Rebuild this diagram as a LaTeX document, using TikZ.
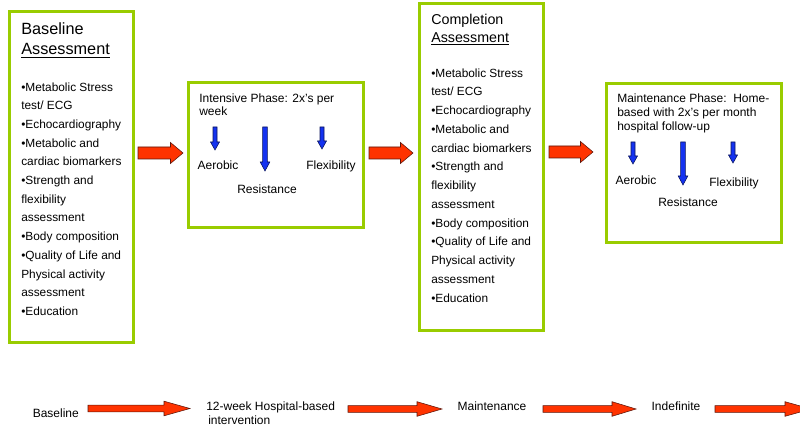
\documentclass[tikz,border=0pt]{standalone}
\usepackage{fontspec}
\setmainfont{Liberation Sans}
\definecolor{limegreen}{RGB}{153,204,0}
\definecolor{arrowred}{RGB}{255,51,0}
\definecolor{arroweddge}{RGB}{90,20,10}
\definecolor{arrowblue}{RGB}{20,50,240}
\definecolor{blueedge}{RGB}{10,20,90}
\newcommand{\hblock}[7]{% style, x1, x2, y, shaft half, head half, head length
  \filldraw[#1] (#2,#4-#5) -- (#3-#7,#4-#5) -- (#3-#7,#4-#6) -- (#3,#4) -- (#3-#7,#4+#6) -- (#3-#7,#4+#5) -- (#2,#4+#5) -- cycle;}
\newcommand{\vblock}[7]{% style, x, y1, y2, shaft half, head half, head length
  \filldraw[#1] (#2-#5,#3) -- (#2-#5,#4-#7) -- (#2-#6,#4-#7) -- (#2,#4) -- (#2+#6,#4-#7) -- (#2+#5,#4-#7) -- (#2+#5,#3) -- cycle;}
\begin{document}
\begin{tikzpicture}[x=0.75pt,y=-0.75pt,
  greenbox/.style={draw=limegreen, line width=2.25pt, inner sep=0pt},
  redarrow/.style={fill=arrowred, draw=arroweddge, line width=0.4pt},
  bluearrow/.style={fill=arrowblue, draw=blueedge, line width=0.4pt},
  txt/.style={inner sep=0pt, anchor=base west, font=\fontsize{8.9}{10}\selectfont},
  lbl/.style={inner sep=0pt, anchor=base, font=\fontsize{9}{10}\selectfont},
  bigtitle/.style={inner sep=0pt, anchor=base west, font=\fontsize{12.2}{14}\selectfont},
  midtitle/.style={inner sep=0pt, anchor=base west, font=\fontsize{10.7}{12}\selectfont}]
\useasboundingbox (0,0) rectangle (800,431);

% boxes
\node[greenbox, minimum width=93pt, minimum height=247.5pt] (b1) at (71,177) {};
\node[greenbox, minimum width=131.25pt, minimum height=108.75pt] (b2) at (275.5,155.5) {};
\node[greenbox, minimum width=93pt, minimum height=244.5pt] (b3) at (481,167) {};
\node[greenbox, minimum width=131.25pt, minimum height=119.25pt] (b4) at (693.5,163.5) {};

% box 1 text
\node[bigtitle] (t1a) at (21,35) {Baseline};
\node[bigtitle] (t1b) at (21,55) {\underline{Assessment}};
\foreach \t [count=\i] in {•Metabolic Stress, test/ ECG, •Echocardiography, •Metabolic and, cardiac biomarkers, •Strength and, flexibility, assessment, •Body composition, •Quality of Life and, Physical activity, assessment, •Education}
  \node[txt] (b1l\i) at (21,91.2+18.68*\i-18.68) {\t};

% box 3 text
\node[midtitle] (t3a) at (431,25) {Completion};
\node[midtitle] (t3b) at (431,42.3) {\underline{Assessment}};
\foreach \t [count=\i] in {•Metabolic Stress, test/ ECG, •Echocardiography, •Metabolic and, cardiac biomarkers, •Strength and, flexibility, assessment, •Body composition, •Quality of Life and, Physical activity, assessment, •Education}
  \node[txt] (b3l\i) at (431,77.2+18.75*\i-18.75) {\t};

% box 2 text
\node[txt, font=\fontsize{9}{10}\selectfont] (b2a) at (199,102.6) {Intensive Phase: 2x’s per};
\node[txt, font=\fontsize{9}{10}\selectfont] (b2b) at (199,116) {week};
\vblock{bluearrow}{215}{127}{150}{2}{4.5}{8}
\vblock{bluearrow}{265}{127}{171}{2.3}{4.8}{9}
\vblock{bluearrow}{322}{127}{149}{2}{4.5}{8}
\node[lbl] (b2ae) at (218,170) {Aerobic};
\node[lbl] (b2re) at (267,193.3) {Resistance};
\node[lbl] (b2fl) at (331,170) {Flexibility};

% box 4 text
\node[txt, font=\fontsize{9}{10}\selectfont] (b4a) at (617,102.6) {Maintenance Phase:\ \ Home-};
\node[txt, font=\fontsize{9}{10}\selectfont] (b4b) at (617,116.6) {based with 2x’s per month};
\node[txt, font=\fontsize{9}{10}\selectfont] (b4c) at (617,130.3) {hospital follow-up};
\vblock{bluearrow}{633}{142}{164}{2}{4.5}{8}
\vblock{bluearrow}{683}{142}{185}{2.3}{4.8}{9}
\vblock{bluearrow}{733}{142}{163}{2}{4.5}{8}
\node[lbl] (b4ae) at (636,184.3) {Aerobic};
\node[lbl] (b4re) at (688,206.3) {Resistance};
\node[lbl] (b4fl) at (734,186.3) {Flexibility};

% top red arrows
\hblock{redarrow}{138}{183}{153}{6}{10.5}{12.5}
\hblock{redarrow}{369}{413}{153}{6}{10.5}{12.5}
\hblock{redarrow}{549}{593}{152}{6}{10.5}{12.5}

% bottom timeline
\node[lbl] (tl1) at (55.8,417) {Baseline};
\node[txt, font=\fontsize{9}{10}\selectfont] (tl2a) at (206,410.3) {12-week Hospital-based};
\node[txt, font=\fontsize{9}{10}\selectfont] (tl2b) at (208,424) {intervention};
\node[lbl] (tl3) at (492,410.3) {Maintenance};
\node[lbl] (tl4) at (676,410.3) {Indefinite};
\hblock{redarrow}{88}{190}{408.5}{3.3}{7.3}{26}
\hblock{redarrow}{348}{442}{409}{3.3}{7.3}{25}
\hblock{redarrow}{543}{636}{409}{3.3}{7.3}{24}
\begin{scope}
\clip (0,0) rectangle (800,431);
\hblock{redarrow}{715}{811}{409}{3.3}{7.3}{26}
\end{scope}
\end{tikzpicture}
\end{document}
